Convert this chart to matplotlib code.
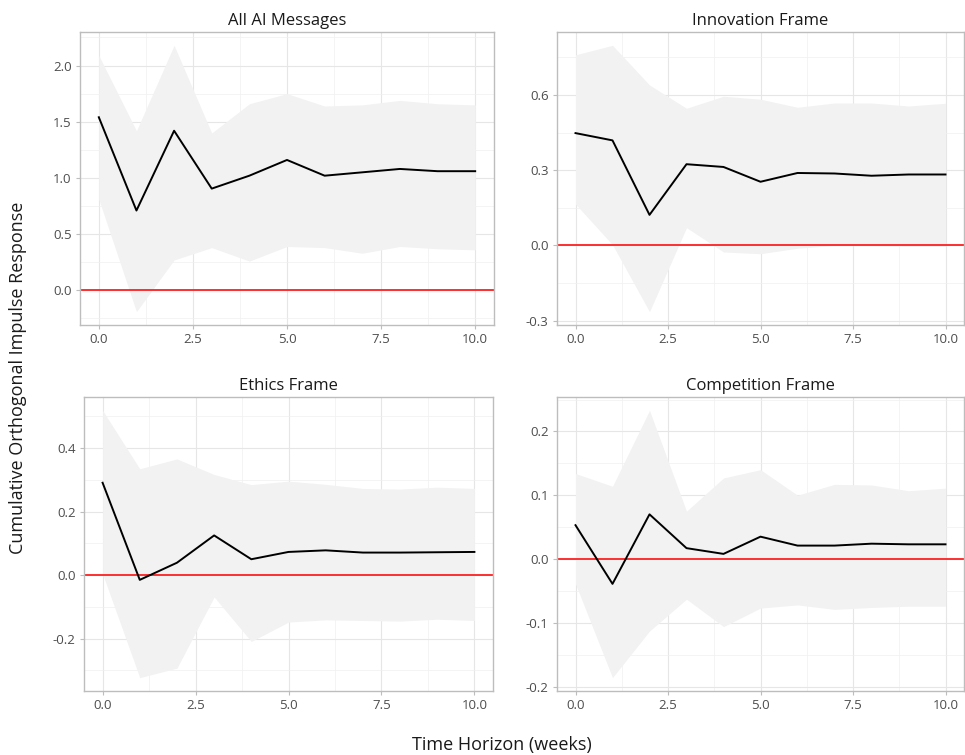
import numpy as np
import matplotlib
matplotlib.use("Agg")
import matplotlib.pyplot as plt
from matplotlib.ticker import MultipleLocator

plt.rcParams["font.family"] = ["Open Sans", "DejaVu Sans"]

horizon = list(range(11))

titles = ["All AI Messages", "Innovation Frame", "Ethics Frame", "Competition Frame"]

# cumulative orthogonal IRF with lower / upper bootstrap bands
irf_all = [1.54, 0.71, 1.42, 0.905, 1.02, 1.16, 1.02, 1.05, 1.08, 1.06, 1.06]
lo_all = [0.81, -0.19, 0.27, 0.38, 0.26, 0.39, 0.38, 0.33, 0.39, 0.37, 0.36]
hi_all = [2.09, 1.42, 2.18, 1.40, 1.66, 1.75, 1.64, 1.65, 1.69, 1.66, 1.65]

irf_innov = [0.448, 0.419, 0.122, 0.324, 0.313, 0.254, 0.289, 0.287, 0.278, 0.283, 0.283]
lo_innov = [0.165, 0.003, -0.264, 0.071, -0.026, -0.033, -0.011, 0.0, -0.001, -0.004, -0.004]
hi_innov = [0.760, 0.798, 0.640, 0.547, 0.595, 0.583, 0.551, 0.568, 0.568, 0.556, 0.567]

irf_ethics = [0.291, -0.015, 0.039, 0.125, 0.050, 0.073, 0.078, 0.071, 0.071, 0.072, 0.073]
lo_ethics = [0.004, -0.323, -0.293, -0.069, -0.209, -0.148, -0.141, -0.143, -0.145, -0.139, -0.143]
hi_ethics = [0.519, 0.335, 0.366, 0.317, 0.285, 0.296, 0.286, 0.273, 0.271, 0.277, 0.273]

irf_comp = [0.053, -0.039, 0.070, 0.017, 0.008, 0.035, 0.021, 0.021, 0.024, 0.023, 0.023]
lo_comp = [-0.039, -0.186, -0.113, -0.063, -0.106, -0.077, -0.072, -0.079, -0.076, -0.074, -0.074]
hi_comp = [0.134, 0.114, 0.233, 0.075, 0.127, 0.140, 0.100, 0.117, 0.116, 0.107, 0.111]

series = [
    (irf_all, lo_all, hi_all, 0.5),
    (irf_innov, lo_innov, hi_innov, 0.3),
    (irf_ethics, lo_ethics, hi_ethics, 0.2),
    (irf_comp, lo_comp, hi_comp, 0.1),
]

W, H = 965, 755
fig = plt.figure(figsize=(W / 100, H / 100), dpi=100)

# panel boxes in pixels: left, right, top, bottom
boxes = [
    (80, 494, 32, 325),
    (557, 964, 32, 325),
    (84, 493, 397, 691),
    (557, 964, 397, 691),
]

for (irf, lo, hi, step), title, (l, r, t, b) in zip(series, titles, boxes):
    ax = fig.add_axes([l / W, 1 - b / H, (r - l) / W, (b - t) / H])
    ax.fill_between(horizon, lo, hi, color="#f2f2f2", lw=0, zorder=1)
    ax.axhline(0, color="#ff2020", lw=1.3, zorder=2)
    ax.plot(horizon, irf, color="black", lw=1.4, zorder=3)

    # 5% padding on both axes, like ggplot's default expansion
    ymin, ymax = min(lo), max(hi)
    pad = 0.05 * (ymax - ymin)
    ylim = (ymin - pad, ymax + pad)

    ax.xaxis.set_major_locator(MultipleLocator(2.5))
    ax.xaxis.set_minor_locator(MultipleLocator(1.25))
    ax.yaxis.set_major_locator(MultipleLocator(step))
    ax.yaxis.set_minor_locator(MultipleLocator(step / 2))
    ax.set_xlim(-0.5, 10.5)
    ax.set_ylim(*ylim)
    ax.xaxis.set_major_formatter(lambda v, p: "{:.1f}".format(v))
    ax.yaxis.set_major_formatter(lambda v, p: "{:.1f}".format(v).replace("-0.0", "0.0"))

    ax.grid(which="major", color="#e6e6e6", lw=0.8, zorder=0)
    ax.grid(which="minor", color="#f0f0f0", lw=0.5, zorder=0)
    ax.set_axisbelow(True)
    for s in ax.spines.values():
        s.set_color("#bdbdbd")
        s.set_linewidth(1.0)
    ax.tick_params(which="major", length=3, color="#bdbdbd", labelsize=9.5,
                   labelcolor="#4d4d4d", pad=3)
    ax.tick_params(which="minor", length=0)
    ax.set_title(title, fontsize=12, color="#1a1a1a", pad=5)

fig.text(18 / W, 1 - 378 / H, "Cumulative Orthogonal Impulse Response",
         rotation=90, ha="center", va="center", fontsize=13, color="#1a1a1a")
fig.text(502 / W, 1 - 745 / H, "Time Horizon (weeks)",
         ha="center", va="center", fontsize=13, color="#1a1a1a")

fig.savefig("out.png", dpi=100)
